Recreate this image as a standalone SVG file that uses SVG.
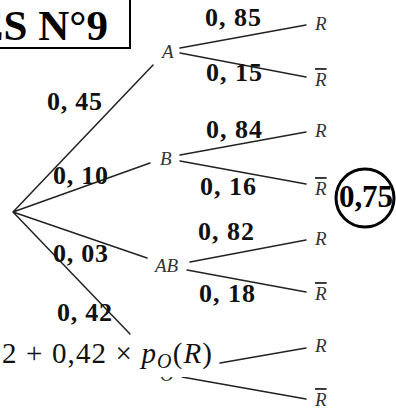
<svg xmlns="http://www.w3.org/2000/svg" width="396" height="409" viewBox="0 0 396 409">
<style>
.ln{stroke:#222;stroke-width:1.5;fill:none;stroke-linecap:round}
.p{font-family:"Liberation Serif",serif;font-weight:bold;font-size:26px;fill:#111}
.n{font-family:"Liberation Serif",serif;font-style:italic;font-size:19px;fill:#333}
.nb{font-family:"Liberation Serif",serif;font-style:italic;font-size:19px;fill:#333;text-decoration:overline}
</style>
<rect width="396" height="409" fill="#fff"/>
<g id="title">
<rect x="-10" y="-10" width="140" height="58" fill="#fff" stroke="#000" stroke-width="2"/>
<text x="108" y="40" text-anchor="end" font-family="Liberation Serif,serif" font-weight="bold" font-size="43">ES N°9</text>
</g>
<g id="connectors">
<path class="ln" d="M13,212L153,65M13,212L150,163M13,212L147,258M13,212L130,334"/>
<path class="ln" d="M180,48L306,25M180,53L306,77M180,155L306,132M180,161L306,184M190,262L306,240M187,270L306,292M220,363L306,348M182,377L306,399"/>
</g>
<g id="labels">
<text class="p" x="47" y="110" textLength="55">0, 45</text>
<text class="p" x="53" y="184" textLength="55">0, 10</text>
<text class="p" x="53" y="262" textLength="55">0, 03</text>
<text class="p" x="57" y="321" textLength="55">0, 42</text>
<text class="p" x="205" y="26" textLength="56">0, 85</text>
<text class="p" x="206" y="81" textLength="56">0, 15</text>
<text class="p" x="206" y="138" textLength="56">0, 84</text>
<text class="p" x="200" y="195" textLength="56">0, 16</text>
<text class="p" x="198" y="240" textLength="56">0, 82</text>
<text class="p" x="199" y="302" textLength="56">0, 18</text>
</g>
<g id="node-A"><text class="n" x="162" y="58">A</text></g>
<g id="node-B"><text class="n" x="160" y="165">B</text></g>
<g id="node-AB"><text class="n" x="155" y="272">AB</text></g>
<g id="node-O">
<text class="n" x="160" y="381">O</text>
<rect x="0" y="335" width="217" height="42" fill="#fff"/>
<text x="2" y="363" font-family="Liberation Serif,serif" font-size="29" fill="#111" textLength="210">2 + 0,42 × <tspan font-style="italic">p</tspan><tspan font-style="italic" font-size="20" dy="5">O</tspan><tspan dy="-5">(</tspan><tspan font-style="italic">R</tspan>)</text>
</g>
<g id="leaf-A-R"><text class="n" x="315" y="30">R</text></g>
<g id="leaf-A-Rb"><text class="nb" x="315" y="86">R</text></g>
<g id="leaf-B-R"><text class="n" x="315" y="137">R</text></g>
<g id="leaf-B-Rb"><text class="nb" x="315" y="195">R</text></g>
<g id="leaf-AB-R"><text class="n" x="315" y="245">R</text></g>
<g id="leaf-AB-Rb"><text class="nb" x="315" y="300">R</text></g>
<g id="leaf-O-R"><text class="n" x="315" y="352">R</text></g>
<g id="leaf-O-Rb"><text class="nb" x="315" y="406">R</text></g>
<g id="answer">
<circle cx="365" cy="198" r="29" fill="#fff" stroke="#000" stroke-width="3"/>
<text x="366" y="207" text-anchor="middle" font-family="Liberation Serif,serif" font-weight="bold" font-size="31" textLength="54">0,75</text>
</g>
</svg>
